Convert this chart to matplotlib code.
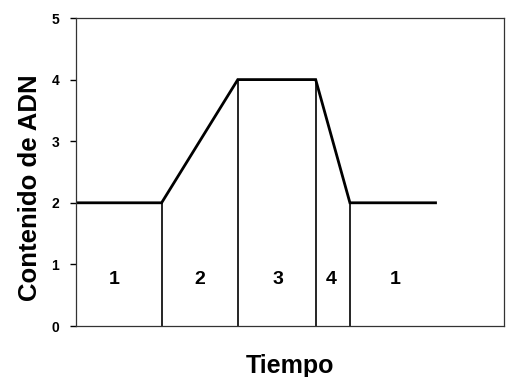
import matplotlib
matplotlib.use("Agg")
import matplotlib.pyplot as plt

plt.rcParams['font.family'] = ['Liberation Sans', 'DejaVu Sans']

# curva del contenido de ADN
tiempo = [0, 2.0, 3.78, 5.6, 6.4, 8.4]
adn = [2, 2, 4, 4, 2, 2]
# etiquetas de fases
fases = ['1', '2', '3', '4', '1']
fase_x = [0.9, 2.9, 4.72, 5.97, 7.45]
fase_y = 0.75

fig = plt.figure(figsize=(5.09, 3.77), dpi=100)
ax = fig.add_axes([76 / 509, 51 / 377, 428 / 509, 308 / 377])

ax.plot(tiempo, adn, color='black', lw=2.0, solid_joinstyle='miter')
# lineas verticales entre fases
ax.vlines(tiempo[1:5], 0, adn[1:5], color='black', lw=1.2)
for t, x in zip(fases, fase_x):
    ax.text(x, fase_y, t, ha='center', va='center', fontsize=14, fontweight='bold')

ax.set_xlim(0, 10)
ax.set_ylim(0, 5)
ax.set_xticks([])
ax.set_yticks([0, 1, 2, 3, 4, 5])
ax.tick_params(axis='y', length=4, width=1, pad=8, labelsize=10)
for lab in ax.get_yticklabels():
    lab.set_fontweight('bold')
for s in ax.spines.values():
    s.set_linewidth(0.9)
    s.set_color('#333333')

ax.set_ylabel('Contenido de ADN', fontsize=18.5, fontweight='bold')
ax.yaxis.set_label_coords(-0.08, 0.45)
ax.set_xlabel('Tiempo', fontsize=18, fontweight='bold', labelpad=20)

fig.savefig('out.png', dpi=100)
